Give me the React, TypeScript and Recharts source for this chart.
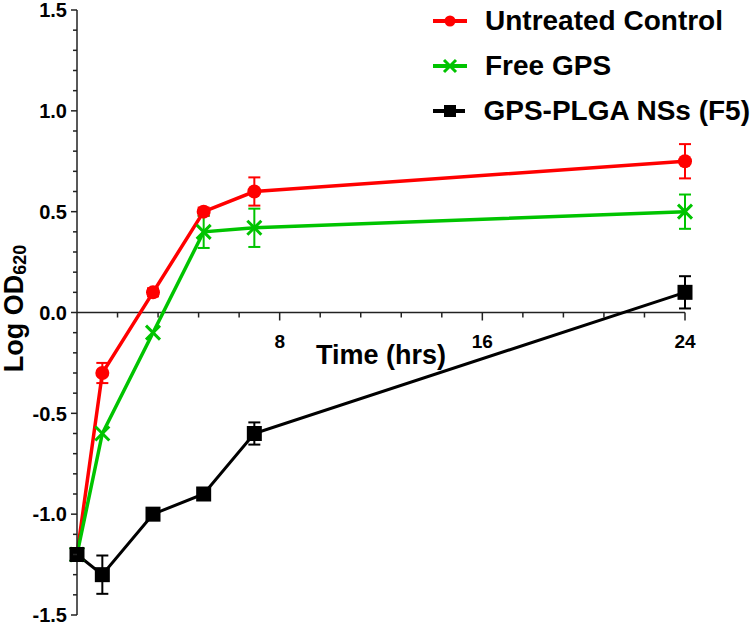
import { LineChart, Line, XAxis, YAxis, ErrorBar, ReferenceLine, ReferenceDot, Legend } from 'recharts'

const times = [0, 1, 3, 5, 7, 24]

const controlLog = [-1.2, -0.3, 0.1, 0.5, 0.6, 0.75]
const controlErr = [0, 0.05, 0.02, 0.02, 0.07, 0.085]

const freeLog = [-1.2, -0.6, -0.1, 0.4, 0.42, 0.5]
const freeErr = [0, 0, 0, 0.08, 0.095, 0.085]

const nsLog = [-1.2, -1.3, -1.0, -0.9, -0.6, 0.1]
const nsErr = [0, 0.095, 0, 0, 0.055, 0.08]

const seriesNames = ['Untreated Control', 'Free GPS', 'GPS-PLGA NSs (F5)']
const seriesColors = ['#ff0000', '#00c400', '#000000']

const yTicks = Array.from({ length: 31 }, (_, i) => Math.round((-1.5 + i * 0.1) * 10) / 10)
const xMinorTicks = Array.from({ length: 15 }, (_, i) => Math.round((i + 1) * 1.6 * 10) / 10)
const xLabelTicks = [8, 16, 24]

const data = times.map((t, i) => ({
  t,
  control: controlLog[i],
  controlErr: controlErr[i],
  free: freeLog[i],
  freeErr: freeErr[i],
  ns: nsLog[i],
  nsErr: nsErr[i],
}))

const FONT = '"Liberation Sans", Arial, sans-serif'

const YTick = (p: any) => {
  const v = p.payload.value
  const major = Math.abs(v * 2 - Math.round(v * 2)) < 1e-6
  return (
    <g>
      <line x1={p.x - (major ? 6 : 4)} x2={p.x} y1={p.y} y2={p.y} stroke="#222" strokeWidth={1.5} />
      {major && (
        <text x={p.x - 10} y={p.y} dy="0.36em" textAnchor="end" fontSize={20} fontWeight="bold" fontFamily={FONT} fill="#000">
          {v.toFixed(1)}
        </text>
      )}
    </g>
  )
}

const YLabel = (p: any) => {
  const vb = p.viewBox
  const cy = vb.y + vb.height / 2
  return (
    <text transform={`translate(23,${cy - 4}) rotate(-90)`} textAnchor="middle" fontSize={27} fontWeight="bold" fontFamily={FONT} fill="#000">
      Log OD<tspan fontSize={18} dy={3}>620</tspan>
    </text>
  )
}

const xTickShape = (len: number, label?: string) => (p: any) => (
  <g>
    <line x1={p.cx} x2={p.cx} y1={p.cy} y2={p.cy + len} stroke="#222" strokeWidth={1.5} />
    {label && (
      <text x={p.cx} y={p.cy + 35} textAnchor="middle" fontSize={19} fontWeight="bold" fontFamily={FONT} fill="#000">
        {label}
      </text>
    )}
  </g>
)

const TimeLabel = (p: any) => (
  <text x={p.cx} y={p.cy + 51} textAnchor="middle" fontSize={27} fontWeight="bold" fontFamily={FONT} fill="#000">
    Time (hrs)
  </text>
)

const CircleDot = (p: any) => <circle key={p.index} cx={p.cx} cy={p.cy} r={7} fill={seriesColors[0]} />
const CrossDot = (p: any) => (
  <path
    key={p.index}
    d={`M${p.cx - 7},${p.cy - 7}L${p.cx + 7},${p.cy + 7}M${p.cx - 7},${p.cy + 7}L${p.cx + 7},${p.cy - 7}`}
    stroke={seriesColors[1]}
    strokeWidth={3}
  />
)
const SquareDot = (p: any) => <rect key={p.index} x={p.cx - 7.5} y={p.cy - 7.5} width={15} height={15} fill={seriesColors[2]} />

const LegendSymbol = ({ i }: { i: number }) => {
  const c = seriesColors[i]
  return (
    <svg width={34} height={20} style={{ display: 'block' }}>
      <line x1={0} x2={34} y1={10} y2={10} stroke={c} strokeWidth={4} />
      {i === 0 && <circle cx={17} cy={10} r={5.5} fill={c} />}
      {i === 1 && <path d="M11,4L23,16M11,16L23,4" stroke={c} strokeWidth={3} />}
      {i === 2 && <rect x={11} y={4} width={12} height={12} fill={c} />}
    </svg>
  )
}

const LegendBox = () => (
  <div>
    {seriesNames.map((name, i) => (
      <div key={name} style={{ display: 'flex', alignItems: 'center', height: 45 }}>
        <LegendSymbol i={i} />
        <span style={{ marginLeft: 18, fontSize: 28, fontWeight: 'bold', fontFamily: FONT, color: '#000', whiteSpace: 'nowrap' }}>
          {name}
        </span>
      </div>
    ))}
  </div>
)

export default function App() {
  return (
    <div style={{ position: 'absolute', left: 0, top: 0, background: '#fff' }}>
      <LineChart width={750} height={625} data={data} margin={{ top: 10, right: 65, bottom: 10, left: 0 }}>
        <XAxis type="number" dataKey="t" domain={[0, 24]} hide />
        <YAxis
          type="number"
          domain={[-1.5, 1.5]}
          ticks={yTicks}
          interval={0}
          tickSize={0}
          tickMargin={0}
          tickLine={false}
          tick={<YTick />}
          width={77}
          axisLine={{ stroke: '#222', strokeWidth: 1.5 }}
          label={{ content: <YLabel /> }}
        />
        <ReferenceLine segment={[{ x: 0, y: 0 }, { x: 24, y: 0 }]} stroke="#222" strokeWidth={1.5} />
        {xMinorTicks.map((t) => (
          <ReferenceDot
            key={t}
            x={t}
            y={0}
            r={0}
            shape={xTickShape(xLabelTicks.includes(t) ? 8 : 5, xLabelTicks.includes(t) ? String(t) : undefined)}
          />
        ))}
        <ReferenceDot x={12} y={0} r={0} shape={TimeLabel} />
        <Legend
          layout="vertical"
          align="center"
          verticalAlign="middle"
          content={<LegendBox />}
          wrapperStyle={{ top: -2, left: 433, width: 317 }}
        />
        <Line type="linear" dataKey="control" stroke={seriesColors[0]} strokeWidth={3.5} dot={CircleDot} activeDot={false} isAnimationActive={false}>
          <ErrorBar dataKey="controlErr" width={6} strokeWidth={2} stroke={seriesColors[0]} direction="y" />
        </Line>
        <Line type="linear" dataKey="free" stroke={seriesColors[1]} strokeWidth={3.5} dot={CrossDot} activeDot={false} isAnimationActive={false}>
          <ErrorBar dataKey="freeErr" width={6} strokeWidth={2} stroke={seriesColors[1]} direction="y" />
        </Line>
        <Line type="linear" dataKey="ns" stroke={seriesColors[2]} strokeWidth={3} dot={SquareDot} activeDot={false} isAnimationActive={false}>
          <ErrorBar dataKey="nsErr" width={6} strokeWidth={2} stroke={seriesColors[2]} direction="y" />
        </Line>
      </LineChart>
    </div>
  )
}
